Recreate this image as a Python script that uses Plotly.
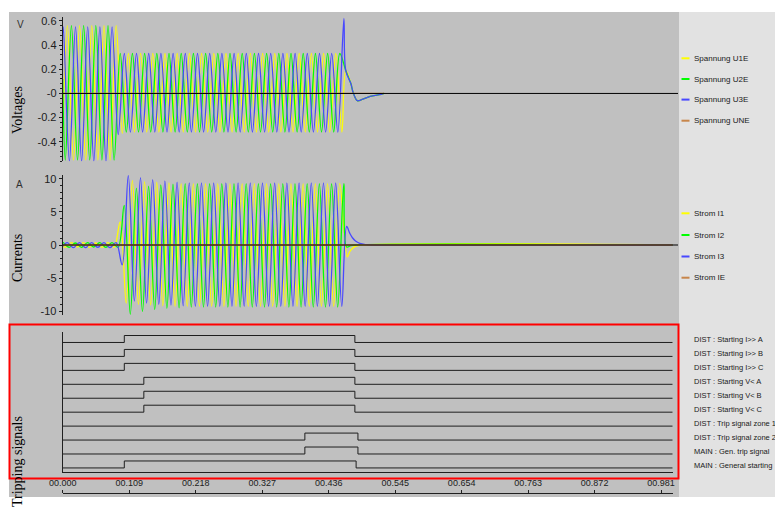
import plotly.graph_objects as go

W, H = 775, 511
HALF_CYCLE = 0.01          # 50 Hz system: one extreme every 10 ms
RECORD_END = 1.0           # length of the disturbance record (s)

# ---------------- Voltages (V) ----------------
VOLT_NAMES = ["Spannung U1E", "Spannung U2E", "Spannung U3E", "Spannung UNE"]
VOLT_COLORS = ["#ffff00", "#00ff00", "#4848ff", "#c8864b"]

U1E_START = -0.34
U1E_FIRST_PEAK = 0.0077
U1E_PEAKS = [0.56, -0.55, 0.56, -0.55, 0.56, -0.55, 0.56, -0.55, 0.56,
             -0.33, 0.33, -0.32, 0.33, -0.32, 0.33, -0.32, 0.33, -0.32, 0.33,
             -0.32, 0.33, -0.32, 0.33, -0.32, 0.33, -0.32, 0.33, -0.32, 0.33,
             -0.32, 0.33, -0.32, 0.33, -0.32, 0.33, -0.32, 0.33, -0.32, 0.33,
             -0.32, 0.33, -0.32, 0.33, -0.32, 0.33, -0.32]

U2E_START = 0.12
U2E_FIRST_PEAK = 0.0043
U2E_PEAKS = [-0.55, 0.56, -0.55, 0.56, -0.55, 0.56, -0.55, 0.56, -0.55,
             0.33, -0.32, 0.33, -0.32, 0.33, -0.32, 0.33, -0.32, 0.33, -0.32,
             0.33, -0.32, 0.33, -0.32, 0.33, -0.32, 0.33, -0.32, 0.33, -0.32,
             0.33, -0.32, 0.33, -0.32, 0.33, -0.32, 0.33, -0.32, 0.33, -0.32,
             0.33, -0.32, 0.33, -0.32, 0.33, -0.32, 0.33]

U3E_START = 0.50
U3E_FIRST_PEAK = 0.001
U3E_PEAKS = [0.55, -0.56, 0.55, -0.56, 0.55, -0.56, 0.55, -0.56, 0.55,
             -0.34, 0.33, -0.32, 0.33, -0.32, 0.33, -0.32, 0.33, -0.32, 0.33,
             -0.32, 0.33, -0.32, 0.33, -0.32, 0.33, -0.32, 0.33, -0.32, 0.33,
             -0.32, 0.33, -0.32, 0.33, -0.32, 0.33, -0.32, 0.33, -0.32, 0.33,
             -0.32, 0.33, -0.32, 0.33, -0.32, 0.33, -0.32, 0.62]

# decay of the line voltage after the breaker opens
VOLT_TAIL_T = [0.464, 0.4725, 0.476, 0.483, 0.491, 0.504, 0.522, 0.527]
VOLT_TAIL_V = [0.19, 0.08, 0.01, -0.06, -0.05, -0.025, -0.008, 0.0]

UNE_T = [0.0, 0.527]
UNE_V = [0.0, 0.0]

# ---------------- Currents (A) ----------------
CURR_NAMES = ["Strom I1", "Strom I2", "Strom I3", "Strom IE"]
CURR_COLORS = ["#ffff00", "#00ff00", "#4848ff", "#c8864b"]

I1_START = -0.1
I1_FIRST_PEAK = 0.0042
I1_PEAKS = [-0.35, 0.35, -0.3, 0.35, -0.35, 0.3, -0.35, 0.35, -0.35,
            3.5, -8.8, 9.8, -9.0, 9.6, -9.1, 9.5, -9.2, 9.4, -9.3,
            9.3, -9.3, 9.3, -9.3, 9.3, -9.3, 9.3, -9.3, 9.3, -9.3,
            9.3, -9.3, 9.3, -9.3, 9.3, -9.3, 9.3, -9.3, 9.3, -9.3,
            9.3, -9.3, 9.3, -9.3, 9.3, -9.3, 9.3]
I1_TAIL_T = [0.4665, 0.470, 0.474, 0.479, 0.486, RECORD_END]
I1_TAIL_V = [-1.8, -1.1, -0.6, -0.25, -0.05, 0.0]

I2_START = 0.33
I2_FIRST_PEAK = 0.0008
I2_PEAKS = [0.35, -0.35, 0.3, -0.35, 0.35, -0.3, 0.35, -0.35, 0.35, -0.35,
            6.0, -10.5, 8.6, -10.1, 8.9, -9.8, 9.1, -9.6, 9.2, -9.5,
            9.3, -9.4, 9.3, -9.4, 9.3, -9.4, 9.3, -9.4, 9.3, -9.4,
            9.3, -9.4, 9.3, -9.4, 9.3, -9.4, 9.3, -9.4, 9.3, -9.4,
            9.3, -9.4, 9.3, -9.4, 9.3, -9.4, 9.3]
I2_TAIL_T = [0.4655, 0.472, 0.480, RECORD_END]
I2_TAIL_V = [-0.3, -0.1, 0.0, 0.0]

I3_START = -0.2
I3_FIRST_PEAK = 0.0075
I3_PEAKS = [0.35, -0.4, 0.35, -0.4, 0.35, -0.35, 0.35, -0.4, 0.35,
            -3.0, 10.5, -8.5, 10.2, -8.8, 9.9, -9.0, 9.7, -9.1, 9.5,
            -9.2, 9.4, -9.3, 9.4, -9.3, 9.4, -9.3, 9.4, -9.3, 9.4,
            -9.3, 9.4, -9.3, 9.4, -9.3, 9.4, -9.3, 9.4, -9.3, 9.4,
            -9.3, 9.4, -9.3, 9.4, -9.3, 9.4, -9.3]
I3_TAIL_T = [0.4655, 0.4705, 0.475, 0.480, 0.487, 0.497, 0.505, RECORD_END]
I3_TAIL_V = [2.8, 1.8, 1.1, 0.6, 0.25, 0.06, 0.0, 0.0]

IE_T = [0.0, RECORD_END]
IE_V = [0.0, 0.0]

# ---------------- Binary tripping signals ----------------
SIGNAL_NAMES = ["DIST : Starting I>> A", "DIST : Starting I>> B", "DIST : Starting I>> C",
                "DIST : Starting V< A", "DIST : Starting V< B", "DIST : Starting V< C",
                "DIST : Trip signal zone 1", "DIST : Trip signal zone 2",
                "MAIN : Gen. trip signal", "MAIN : General starting"]
SIGNAL_ON = [0.101, 0.101, 0.101, 0.133, 0.133, 0.133, None, 0.397, 0.397, 0.101]
SIGNAL_OFF = [0.479, 0.479, 0.479, 0.479, 0.479, 0.479, None, 0.484, 0.484, 0.481]

# ---------------- Axis ticks ----------------
TIME_TICKS = [0.0, 0.109, 0.218, 0.327, 0.436, 0.545, 0.654, 0.763, 0.872, 0.981]
TIME_LABELS = ["00.000", "00.109", "00.218", "00.327", "00.436",
               "00.545", "00.654", "00.763", "00.872", "00.981"]

VOLT_TICKS = [0.6, 0.4, 0.2, 0.0, -0.2, -0.4]
VOLT_LABELS = ["0.6", "0.4", "0.2", "-0", "-0.2", "-0.4"]
CURR_TICKS = [10, 5, 0, -5, -10]
CURR_LABELS = ["10", "5", "0", "-5", "-10"]


def px(x):
    return x / W


def py(y):
    return 1 - y / H


def waveform(start, first_peak, peaks, tail_t, tail_v):
    t = [0.0] + [first_peak + i * HALF_CYCLE for i in range(len(peaks))] + list(tail_t)
    v = [start] + list(peaks) + list(tail_v)
    return t, v


fig = go.Figure()

# voltages
volt_series = [
    waveform(U1E_START, U1E_FIRST_PEAK, U1E_PEAKS, VOLT_TAIL_T, VOLT_TAIL_V),
    waveform(U2E_START, U2E_FIRST_PEAK, U2E_PEAKS, VOLT_TAIL_T, VOLT_TAIL_V),
    waveform(U3E_START, U3E_FIRST_PEAK, U3E_PEAKS, VOLT_TAIL_T, VOLT_TAIL_V),
    (UNE_T, UNE_V),
]
for (t, v), name, col in zip(volt_series, VOLT_NAMES, VOLT_COLORS):
    fig.add_trace(go.Scatter(x=t, y=v, mode="lines", name=name,
                             line=dict(color=col, width=1.3, shape="spline", smoothing=1.0),
                             xaxis="x", yaxis="y", showlegend=False))

# currents
curr_series = [
    waveform(I1_START, I1_FIRST_PEAK, I1_PEAKS, I1_TAIL_T, I1_TAIL_V),
    waveform(I2_START, I2_FIRST_PEAK, I2_PEAKS, I2_TAIL_T, I2_TAIL_V),
    waveform(I3_START, I3_FIRST_PEAK, I3_PEAKS, I3_TAIL_T, I3_TAIL_V),
    (IE_T, IE_V),
]
for (t, v), name, col in zip(curr_series, CURR_NAMES, CURR_COLORS):
    fig.add_trace(go.Scatter(x=t, y=v, mode="lines", name=name,
                             line=dict(color=col, width=1.3, shape="spline", smoothing=1.0),
                             xaxis="x2", yaxis="y2", showlegend=False))

# binary signals: one lane per signal, top to bottom
n_sig = len(SIGNAL_NAMES)
LANE_BASE = 0.27
LANE_HIGH = 0.5
for k, (name, on, off) in enumerate(zip(SIGNAL_NAMES, SIGNAL_ON, SIGNAL_OFF)):
    low = LANE_BASE + (n_sig - 1 - k)
    if on is None:
        xs, ys = [0.0, RECORD_END], [low, low]
    else:
        xs = [0.0, on, off, RECORD_END]
        ys = [low, low + LANE_HIGH, low, low]
    fig.add_trace(go.Scatter(x=xs, y=ys, mode="lines", name=name, line_shape="hv",
                             line=dict(color="#1e1e1e", width=1),
                             xaxis="x3", yaxis="y3", showlegend=False))

# empty trace to carry the time axis
fig.add_trace(go.Scatter(x=[], y=[], xaxis="x4", yaxis="y4", showlegend=False))

AX = "#202020"
tick_font = dict(family="Liberation Sans, Arial, sans-serif", size=11, color=AX)
X_LEFT = 62.7
top_range = (678 - X_LEFT) / 610.0

fig.update_layout(
    width=W, height=H, margin=dict(l=0, r=0, t=0, b=0, pad=0, autoexpand=False),
    paper_bgcolor="white", plot_bgcolor="rgba(0,0,0,0)",
    showlegend=False,
    xaxis=dict(domain=[px(X_LEFT), px(678)], range=[0, top_range], anchor="y",
               visible=False, automargin=False),
    yaxis=dict(domain=[py(161.2), py(17.2)], range=[-0.56, 0.63], anchor="x",
               automargin=False,
               showline=True, linecolor=AX, linewidth=1, showgrid=False,
               ticks="outside", ticklen=3, tickcolor=AX, tickvals=VOLT_TICKS,
               ticktext=VOLT_LABELS, tickfont=tick_font,
               minor=dict(ticks="outside", ticklen=2, dtick=0.04, tick0=0,
                          tickcolor=AX, showgrid=False),
               zeroline=False, layer="above traces"),
    xaxis2=dict(domain=[px(X_LEFT), px(678)], range=[0, top_range], anchor="y2",
                visible=False, automargin=False),
    yaxis2=dict(domain=[py(315), py(175)], range=[-10.6, 10.6], anchor="x2",
                automargin=False,
                showline=True, linecolor=AX, linewidth=1, showgrid=False,
                ticks="outside", ticklen=3, tickcolor=AX, tickvals=CURR_TICKS,
                ticktext=CURR_LABELS, tickfont=tick_font,
                minor=dict(ticks="outside", ticklen=2, dtick=1, tick0=0,
                           tickcolor=AX, showgrid=False),
                zeroline=False, layer="above traces"),
    xaxis3=dict(domain=[px(X_LEFT), px(672.7)], range=[0, RECORD_END], anchor="y3",
                automargin=False,
                showline=True, linecolor=AX, linewidth=1, showgrid=False,
                zeroline=False, ticks="", showticklabels=False),
    yaxis3=dict(domain=[py(471.7), py(332.3)], range=[0, 10], anchor="x3",
                automargin=False,
                showline=True, linecolor=AX, linewidth=1, showgrid=False,
                zeroline=False, ticks="", showticklabels=False),
    xaxis4=dict(domain=[px(X_LEFT), px(672.7)], range=[0, RECORD_END], anchor="y4",
                automargin=False,
                side="top", showline=True, linecolor=AX, linewidth=1,
                showgrid=False, zeroline=False, ticks="outside", ticklen=3,
                tickcolor=AX, tickvals=TIME_TICKS, ticktext=TIME_LABELS,
                tickfont=dict(family="Liberation Sans, Arial, sans-serif",
                              size=9, color=AX)),
    yaxis4=dict(domain=[py(505), py(493.7)], anchor="x4", visible=False,
                automargin=False, range=[0, 1]),
)

shapes = [
    # panel background and legend strip
    dict(type="rect", xref="paper", yref="paper", x0=px(9), x1=px(679),
         y0=py(497), y1=py(12), fillcolor="#c0c0c0", line=dict(width=0), layer="below"),
    dict(type="rect", xref="paper", yref="paper", x0=px(679), x1=px(775),
         y0=py(497), y1=py(12), fillcolor="#e2e2e2", line=dict(width=0), layer="below"),
    # black zero reference lines drawn over the waveforms
    dict(type="line", xref="x domain", yref="y", x0=0, x1=1, y0=0, y1=0,
         line=dict(color="black", width=1), layer="above"),
    dict(type="line", xref="x2 domain", yref="y2", x0=0, x1=1, y0=0, y1=0,
         line=dict(color="black", width=1), layer="above"),
    # highlighted tripping-signal panel
    dict(type="rect", xref="paper", yref="paper", x0=px(9.5), x1=px(678.5),
         y0=py(478.5), y1=py(324.5), line=dict(color="#ff0000", width=2),
         fillcolor="rgba(0,0,0,0)", layer="above"),
]

annotations = []
leg_font = dict(family="Liberation Sans, Arial, sans-serif", size=8, color="#202020")
VOLT_LEG_Y = [58.3, 79.0, 99.6, 120.7]
CURR_LEG_Y = [213.3, 235.0, 256.5, 277.7]
for names, cols, ys in [(VOLT_NAMES, VOLT_COLORS, VOLT_LEG_Y),
                        (CURR_NAMES, CURR_COLORS, CURR_LEG_Y)]:
    for name, col, y in zip(names, cols, ys):
        shapes.append(dict(type="line", xref="paper", yref="paper",
                           x0=px(681.5), x1=px(689.5), y0=py(y), y1=py(y),
                           line=dict(color=col, width=2)))
        annotations.append(dict(text=name, x=px(691.5), y=py(y), xref="paper",
                                yref="paper", xanchor="left", yanchor="middle",
                                showarrow=False, font=leg_font))

sig_font = dict(family="Liberation Sans, Arial, sans-serif", size=7.5, color="#202020")
for k, name in enumerate(SIGNAL_NAMES):
    y = 339 + 14 * k
    annotations.append(dict(text=name, x=px(691.5), y=py(y), xref="paper", yref="paper",
                            xanchor="left", yanchor="middle", showarrow=False,
                            font=sig_font))

title_font = dict(family="Liberation Serif, Times New Roman, serif", size=14, color="black")
for text, yc in [("Voltages", 110), ("Currents", 258), ("Tripping signals", 462)]:
    annotations.append(dict(text=text, x=px(17), y=py(yc), xref="paper", yref="paper",
                            xanchor="center", yanchor="middle", textangle=-90,
                            showarrow=False, font=title_font))

unit_font = dict(family="Liberation Sans, Arial, sans-serif", size=10, color="#303030")
for text, xc, yc in [("V", 20, 25), ("A", 19, 184)]:
    annotations.append(dict(text=text, x=px(xc), y=py(yc), xref="paper", yref="paper",
                            xanchor="center", yanchor="middle", showarrow=False,
                            font=unit_font))

fig.update_layout(shapes=shapes, annotations=annotations)
fig.write_html("out.html")
